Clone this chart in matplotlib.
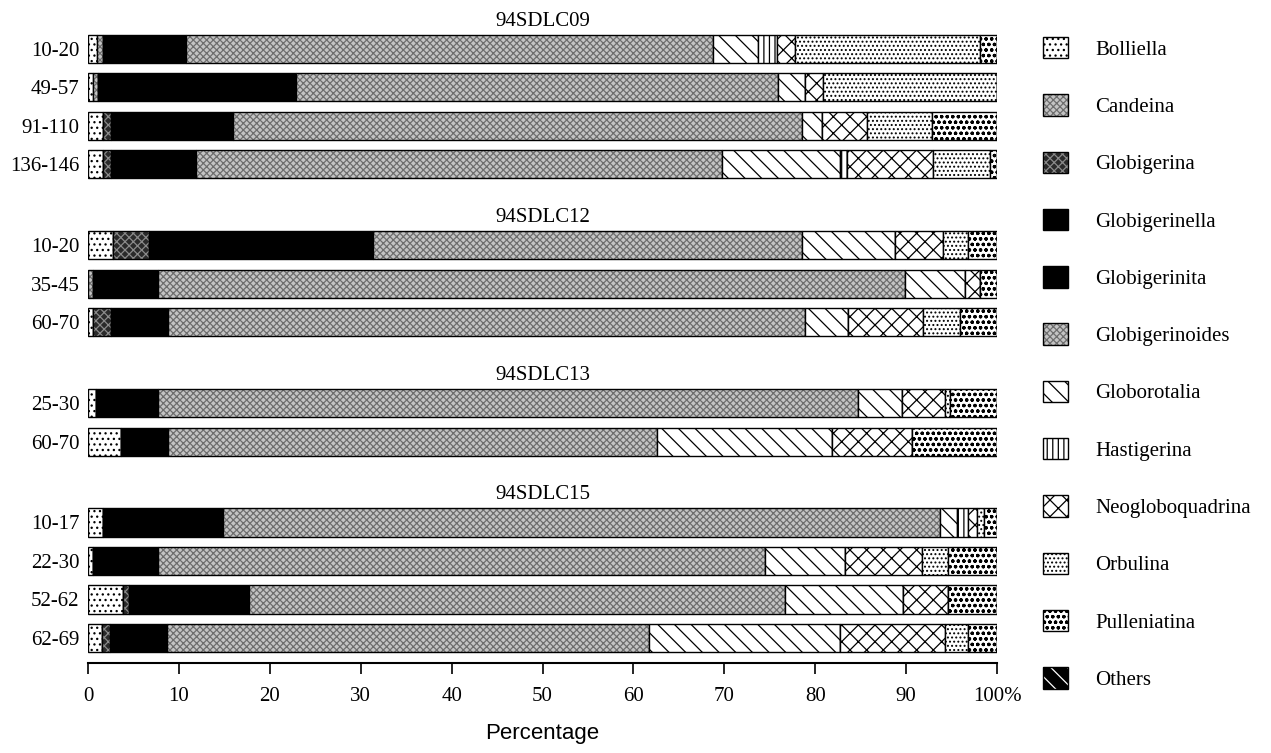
import numpy as np
import matplotlib.pyplot as plt
from matplotlib.patches import Patch

plt.rcParams['font.family'] = ['Liberation Serif', 'DejaVu Serif']
plt.rcParams['hatch.linewidth'] = 0.9

# cores and sample depths (cm)
groups = ['94SDLC09', '94SDLC12', '94SDLC13', '94SDLC15']
depths = [['10-20', '49-57', '91-110', '136-146'],
          ['10-20', '35-45', '60-70'],
          ['25-30', '60-70'],
          ['10-17', '22-30', '52-62', '62-69']]

taxa = ['Bolliella', 'Candeina', 'Globigerina', 'Globigerinella', 'Globigerinita',
        'Globigerinoides', 'Globorotalia', 'Hastigerina', 'Neogloboquadrina',
        'Orbulina', 'Pulleniatina', 'Others']

# percentages, one value per sample (same order as depths, top to bottom)
bolliella        = [1.0, 0.5, 1.6, 1.6, 2.7, 0.0, 0.6, 0.9, 3.6, 1.6, 0.6, 3.8, 1.5]
candeina         = [0.7, 0.6, 0.0, 0.0, 0.0, 0.6, 0.0, 0.0, 0.0, 0.0, 0.0, 0.0, 0.0]
globigerina      = [0.0, 0.0, 0.9, 0.9, 4.0, 0.0, 1.9, 0.0, 0.0, 0.0, 0.0, 0.7, 0.9]
globigerinella   = [9.1, 21.8, 13.4, 9.4, 24.6, 7.1, 6.3, 6.8, 5.2, 13.2, 7.1, 13.2, 6.3]
globigerinita    = [0.0, 0.0, 0.0, 0.0, 0.0, 0.0, 0.0, 0.0, 0.0, 0.0, 0.0, 0.0, 0.0]
globigerinoides  = [58.0, 53.0, 62.7, 57.9, 47.3, 82.2, 70.1, 77.0, 53.8, 78.9, 66.8, 59.0, 53.0]
globorotalia     = [4.9, 3.0, 2.2, 12.9, 10.2, 6.6, 4.7, 4.9, 19.3, 1.9, 8.8, 13.0, 21.0]
hastigerina      = [2.1, 0.0, 0.0, 0.8, 0.0, 0.0, 0.0, 0.0, 0.0, 1.2, 0.0, 0.0, 0.0]
neogloboquadrina = [2.0, 2.0, 4.9, 9.5, 5.3, 1.6, 8.3, 4.7, 8.8, 1.0, 8.5, 4.9, 11.6]
orbulina         = [20.3, 19.1, 7.2, 6.2, 2.7, 0.0, 4.0, 0.5, 0.0, 0.8, 2.8, 0.0, 2.5]
pulleniatina     = [1.9, 0.0, 7.1, 0.8, 3.2, 1.9, 4.1, 5.2, 9.3, 1.4, 5.4, 5.4, 3.2]
others           = [0.0, 0.0, 0.0, 0.0, 0.0, 0.0, 0.0, 0.0, 0.0, 0.0, 0.0, 0.0, 0.0]

data = [bolliella, candeina, globigerina, globigerinella, globigerinita,
        globigerinoides, globorotalia, hastigerina, neogloboquadrina,
        orbulina, pulleniatina, others]

# (face colour, hatch, hatch colour)
styles = [('white', '...', 'black'),
          ('#c4c4c4', 'xxxxx', '#6e6e6e'),
          ('#2a2a2a', 'xxxx', '#8a8a8a'),
          ('black', '', 'black'),
          ('black', '', 'black'),
          ('#c4c4c4', 'xxxxx', '#6e6e6e'),
          ('white', '\\\\', 'black'),
          ('white', '|||', 'black'),
          ('white', 'xx', 'black'),
          ('white', '....', 'black'),
          ('white', 'ooo', 'black'),
          ('black', '\\\\', 'white')]

# row positions: one unit per sample, extra space between cores
ypos = []
title_y = []
y = 0.0
for g in depths:
    title_y.append(y - 0.72)
    for d in g:
        ypos.append(y)
        y += 1
    y += 1.1
ypos = np.array(ypos)
labels = [d for g in depths for d in g]

fig = plt.figure(figsize=(12.71, 7.53), dpi=100)
ax = fig.add_axes([88 / 1271, 1 - 663 / 753, (997 - 88) / 1271, 663 / 753])

left = np.zeros(len(ypos))
for vals, (fc, hatch, hc) in zip(data, styles):
    vals = np.array(vals)
    ax.barh(ypos, vals, left=left, height=0.73, color=fc, hatch=hatch,
            edgecolor=hc, linewidth=0)
    ax.barh(ypos, vals, left=left, height=0.73, fill=False,
            edgecolor='black', linewidth=1.0)
    left += vals

for name, ty in zip(groups, title_y):
    ax.text(50, ty, name, ha='center', va='center', fontsize=15)

ax.set_xlim(0, 100)
ax.set_ylim(15.95, -1.27)
ax.set_yticks(ypos)
ax.set_yticklabels(labels, fontsize=15)
ax.set_xticks(np.arange(0, 101, 10))
ax.set_xticklabels([str(v) for v in range(0, 100, 10)] + ['100%'], fontsize=15)
ax.tick_params(axis='y', length=0, pad=6)
ax.tick_params(axis='x', direction='out', length=8, width=1.2, pad=9)
for s in ['top', 'right', 'left']:
    ax.spines[s].set_visible(False)
ax.spines['bottom'].set_linewidth(1.5)

fig.text(542 / 1271, 1 - 734 / 753, 'Percentage', ha='center', va='center',
         fontsize=16, family=['Liberation Sans', 'DejaVu Sans'])

handles = []
for fc, hatch, hc in styles:
    handles.append((Patch(facecolor=fc, hatch=hatch, edgecolor=hc, linewidth=0),
                    Patch(fill=False, edgecolor='black', linewidth=1.0)))
fig.legend(handles, taxa, loc='upper left', bbox_to_anchor=(1043 / 1271, 1 - 37 / 753),
           frameon=False, fontsize=15, borderpad=0, borderaxespad=0,
           handlelength=1.2, handleheight=1.2, handletextpad=1.3, labelspacing=1.66)

fig.savefig('out.png', dpi=100)
